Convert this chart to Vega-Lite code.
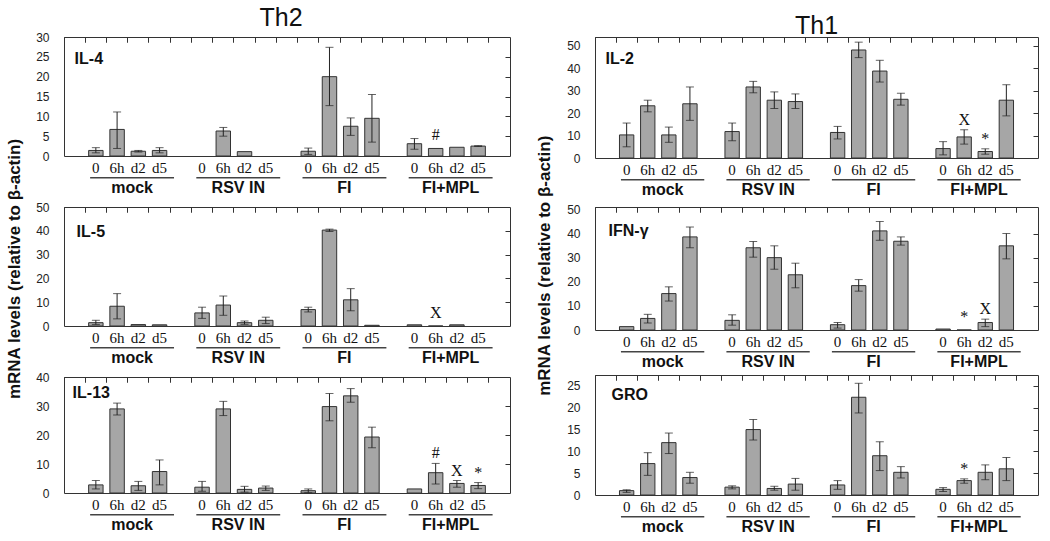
{
"$schema": "https://vega.github.io/schema/vega-lite/v6.json",
"background": "white",
"padding": {"left": 6, "top": -3, "right": 4, "bottom": 0},
"config": {
  "view": {"stroke": "#333", "strokeWidth": 1},
  "axis": {"title": null, "grid": false, "domain": false, "labelFont": "Liberation Sans", "labelColor": "#222", "tickColor": "#333"},
  "axisX": {"labelAngle": 0},
  "title": {"font": "Liberation Sans", "color": "#111"}
},
"datasets": {
  "d": [
    {"c":"IL-4","g":"mock","t":"0","k":"mock 0","v":1.4,"lo":0.8,"hi":2.1},
    {"c":"IL-4","g":"mock","t":"6h","k":"mock 6h","v":6.7,"lo":1.9,"hi":11.1},
    {"c":"IL-4","g":"mock","t":"d2","k":"mock d2","v":1.2,"lo":1.0,"hi":1.4},
    {"c":"IL-4","g":"mock","t":"d5","k":"mock d5","v":1.4,"lo":0.8,"hi":2.1},
    {"c":"IL-4","g":"RSV IN","t":"6h","k":"RSV IN 6h","v":6.3,"lo":5.0,"hi":7.2},
    {"c":"IL-4","g":"RSV IN","t":"d2","k":"RSV IN d2","v":1.1},
    {"c":"IL-4","g":"FI","t":"0","k":"FI 0","v":1.2,"lo":0.4,"hi":2.0},
    {"c":"IL-4","g":"FI","t":"6h","k":"FI 6h","v":20.0,"lo":12.7,"hi":27.4},
    {"c":"IL-4","g":"FI","t":"d2","k":"FI d2","v":7.5,"lo":5.2,"hi":9.6},
    {"c":"IL-4","g":"FI","t":"d5","k":"FI d5","v":9.5,"lo":3.5,"hi":15.5},
    {"c":"IL-4","g":"FI+MPL","t":"0","k":"FI+MPL 0","v":3.1,"lo":1.7,"hi":4.4},
    {"c":"IL-4","g":"FI+MPL","t":"6h","k":"FI+MPL 6h","v":1.9,"s":"#"},
    {"c":"IL-4","g":"FI+MPL","t":"d2","k":"FI+MPL d2","v":2.2},
    {"c":"IL-4","g":"FI+MPL","t":"d5","k":"FI+MPL d5","v":2.5,"lo":2.4,"hi":2.6},

    {"c":"IL-5","g":"mock","t":"0","k":"mock 0","v":1.4,"lo":0.6,"hi":2.4},
    {"c":"IL-5","g":"mock","t":"6h","k":"mock 6h","v":8.3,"lo":3.0,"hi":13.6},
    {"c":"IL-5","g":"mock","t":"d2","k":"mock d2","v":0.6},
    {"c":"IL-5","g":"mock","t":"d5","k":"mock d5","v":0.5},
    {"c":"IL-5","g":"RSV IN","t":"0","k":"RSV IN 0","v":5.5,"lo":3.2,"hi":7.9},
    {"c":"IL-5","g":"RSV IN","t":"6h","k":"RSV IN 6h","v":8.8,"lo":4.5,"hi":12.6},
    {"c":"IL-5","g":"RSV IN","t":"d2","k":"RSV IN d2","v":1.4,"lo":0.7,"hi":2.1},
    {"c":"IL-5","g":"RSV IN","t":"d5","k":"RSV IN d5","v":2.4,"lo":1.0,"hi":3.7},
    {"c":"IL-5","g":"FI","t":"0","k":"FI 0","v":6.9,"lo":5.9,"hi":7.9},
    {"c":"IL-5","g":"FI","t":"6h","k":"FI 6h","v":40.3,"lo":39.7,"hi":40.7},
    {"c":"IL-5","g":"FI","t":"d2","k":"FI d2","v":11.0,"lo":6.4,"hi":15.7},
    {"c":"IL-5","g":"FI","t":"d5","k":"FI d5","v":0.3},
    {"c":"IL-5","g":"FI+MPL","t":"0","k":"FI+MPL 0","v":0.5},
    {"c":"IL-5","g":"FI+MPL","t":"6h","k":"FI+MPL 6h","v":0,"s":"X"},
    {"c":"IL-5","g":"FI+MPL","t":"d2","k":"FI+MPL d2","v":0.5},

    {"c":"IL-13","g":"mock","t":"0","k":"mock 0","v":2.8,"lo":1.4,"hi":4.3},
    {"c":"IL-13","g":"mock","t":"6h","k":"mock 6h","v":29.0,"lo":26.9,"hi":31.0},
    {"c":"IL-13","g":"mock","t":"d2","k":"mock d2","v":2.5,"lo":0.9,"hi":4.0},
    {"c":"IL-13","g":"mock","t":"d5","k":"mock d5","v":7.4,"lo":2.8,"hi":11.4},
    {"c":"IL-13","g":"RSV IN","t":"0","k":"RSV IN 0","v":2.0,"lo":0.6,"hi":4.0},
    {"c":"IL-13","g":"RSV IN","t":"6h","k":"RSV IN 6h","v":29.0,"lo":26.7,"hi":31.6},
    {"c":"IL-13","g":"RSV IN","t":"d2","k":"RSV IN d2","v":1.25,"lo":0.3,"hi":2.3},
    {"c":"IL-13","g":"RSV IN","t":"d5","k":"RSV IN d5","v":1.7,"lo":0.9,"hi":2.4},
    {"c":"IL-13","g":"FI","t":"0","k":"FI 0","v":0.8,"lo":0.1,"hi":1.4},
    {"c":"IL-13","g":"FI","t":"6h","k":"FI 6h","v":29.8,"lo":24.9,"hi":34.3},
    {"c":"IL-13","g":"FI","t":"d2","k":"FI d2","v":33.5,"lo":31.3,"hi":36.0},
    {"c":"IL-13","g":"FI","t":"d5","k":"FI d5","v":19.3,"lo":15.6,"hi":22.7},
    {"c":"IL-13","g":"FI+MPL","t":"0","k":"FI+MPL 0","v":1.4},
    {"c":"IL-13","g":"FI+MPL","t":"6h","k":"FI+MPL 6h","v":7.0,"lo":3.1,"hi":10.2,"s":"#"},
    {"c":"IL-13","g":"FI+MPL","t":"d2","k":"FI+MPL d2","v":3.3,"lo":2.0,"hi":4.3,"s":"X"},
    {"c":"IL-13","g":"FI+MPL","t":"d5","k":"FI+MPL d5","v":2.6,"lo":1.5,"hi":3.6,"s":"*"},

    {"c":"IL-2","g":"mock","t":"0","k":"mock 0","v":10.3,"lo":5.0,"hi":15.6},
    {"c":"IL-2","g":"mock","t":"6h","k":"mock 6h","v":23.3,"lo":20.6,"hi":25.8},
    {"c":"IL-2","g":"mock","t":"d2","k":"mock d2","v":10.3,"lo":7.0,"hi":13.8},
    {"c":"IL-2","g":"mock","t":"d5","k":"mock d5","v":24.2,"lo":16.8,"hi":31.7},
    {"c":"IL-2","g":"RSV IN","t":"0","k":"RSV IN 0","v":11.8,"lo":7.7,"hi":15.6},
    {"c":"IL-2","g":"RSV IN","t":"6h","k":"RSV IN 6h","v":31.7,"lo":29.1,"hi":34.2},
    {"c":"IL-2","g":"RSV IN","t":"d2","k":"RSV IN d2","v":25.8,"lo":22.1,"hi":29.5},
    {"c":"IL-2","g":"RSV IN","t":"d5","k":"RSV IN d5","v":25.2,"lo":22.1,"hi":28.6},
    {"c":"IL-2","g":"FI","t":"0","k":"FI 0","v":11.4,"lo":8.5,"hi":14.1},
    {"c":"IL-2","g":"FI","t":"6h","k":"FI 6h","v":48.2,"lo":44.8,"hi":51.7},
    {"c":"IL-2","g":"FI","t":"d2","k":"FI d2","v":38.8,"lo":33.9,"hi":43.6},
    {"c":"IL-2","g":"FI","t":"d5","k":"FI d5","v":26.2,"lo":23.6,"hi":28.9},
    {"c":"IL-2","g":"FI+MPL","t":"0","k":"FI+MPL 0","v":4.2,"lo":1.4,"hi":7.3},
    {"c":"IL-2","g":"FI+MPL","t":"6h","k":"FI+MPL 6h","v":9.4,"lo":6.2,"hi":12.6,"s":"X"},
    {"c":"IL-2","g":"FI+MPL","t":"d2","k":"FI+MPL d2","v":2.9,"lo":1.7,"hi":4.1,"s":"*"},
    {"c":"IL-2","g":"FI+MPL","t":"d5","k":"FI+MPL d5","v":25.8,"lo":18.8,"hi":32.7},

    {"c":"IFN-γ","g":"mock","t":"0","k":"mock 0","v":1.4},
    {"c":"IFN-γ","g":"mock","t":"6h","k":"mock 6h","v":4.8,"lo":2.9,"hi":6.5},
    {"c":"IFN-γ","g":"mock","t":"d2","k":"mock d2","v":15.1,"lo":12.0,"hi":17.9},
    {"c":"IFN-γ","g":"mock","t":"d5","k":"mock d5","v":38.6,"lo":34.1,"hi":42.7},
    {"c":"IFN-γ","g":"RSV IN","t":"0","k":"RSV IN 0","v":4.0,"lo":2.0,"hi":6.3},
    {"c":"IFN-γ","g":"RSV IN","t":"6h","k":"RSV IN 6h","v":34.1,"lo":30.2,"hi":36.7},
    {"c":"IFN-γ","g":"RSV IN","t":"d2","k":"RSV IN d2","v":30.0,"lo":25.2,"hi":34.9},
    {"c":"IFN-γ","g":"RSV IN","t":"d5","k":"RSV IN d5","v":22.9,"lo":17.5,"hi":27.7},
    {"c":"IFN-γ","g":"FI","t":"0","k":"FI 0","v":2.2,"lo":0.8,"hi":3.1},
    {"c":"IFN-γ","g":"FI","t":"6h","k":"FI 6h","v":18.4,"lo":16.1,"hi":20.9},
    {"c":"IFN-γ","g":"FI","t":"d2","k":"FI d2","v":41.1,"lo":37.2,"hi":45.0},
    {"c":"IFN-γ","g":"FI","t":"d5","k":"FI d5","v":36.8,"lo":35.2,"hi":38.6},
    {"c":"IFN-γ","g":"FI+MPL","t":"0","k":"FI+MPL 0","v":0.4},
    {"c":"IFN-γ","g":"FI+MPL","t":"6h","k":"FI+MPL 6h","v":0,"s":"*"},
    {"c":"IFN-γ","g":"FI+MPL","t":"d2","k":"FI+MPL d2","v":3.1,"lo":1.4,"hi":4.5,"s":"X"},
    {"c":"IFN-γ","g":"FI+MPL","t":"d5","k":"FI+MPL d5","v":34.9,"lo":29.5,"hi":40.0},

    {"c":"GRO","g":"mock","t":"0","k":"mock 0","v":1.0,"lo":0.6,"hi":1.2},
    {"c":"GRO","g":"mock","t":"6h","k":"mock 6h","v":7.2,"lo":4.5,"hi":9.7},
    {"c":"GRO","g":"mock","t":"d2","k":"mock d2","v":12.0,"lo":9.5,"hi":14.2},
    {"c":"GRO","g":"mock","t":"d5","k":"mock d5","v":4.0,"lo":2.7,"hi":5.2},
    {"c":"GRO","g":"RSV IN","t":"0","k":"RSV IN 0","v":1.8,"lo":1.4,"hi":2.1},
    {"c":"GRO","g":"RSV IN","t":"6h","k":"RSV IN 6h","v":15.0,"lo":12.6,"hi":17.3},
    {"c":"GRO","g":"RSV IN","t":"d2","k":"RSV IN d2","v":1.5,"lo":1.1,"hi":2.0},
    {"c":"GRO","g":"RSV IN","t":"d5","k":"RSV IN d5","v":2.5,"lo":1.1,"hi":3.8},
    {"c":"GRO","g":"FI","t":"0","k":"FI 0","v":2.3,"lo":1.3,"hi":3.3},
    {"c":"GRO","g":"FI","t":"6h","k":"FI 6h","v":22.4,"lo":18.8,"hi":25.6},
    {"c":"GRO","g":"FI","t":"d2","k":"FI d2","v":9.0,"lo":5.6,"hi":12.2},
    {"c":"GRO","g":"FI","t":"d5","k":"FI d5","v":5.2,"lo":3.9,"hi":6.5},
    {"c":"GRO","g":"FI+MPL","t":"0","k":"FI+MPL 0","v":1.3,"lo":0.8,"hi":1.7},
    {"c":"GRO","g":"FI+MPL","t":"6h","k":"FI+MPL 6h","v":3.3,"lo":2.7,"hi":3.7,"s":"*"},
    {"c":"GRO","g":"FI+MPL","t":"d2","k":"FI+MPL d2","v":5.2,"lo":3.5,"hi":6.9},
    {"c":"GRO","g":"FI+MPL","t":"d5","k":"FI+MPL d5","v":6.0,"lo":3.3,"hi":8.6}
  ],
  "groups": [{"g":"mock"},{"g":"RSV IN"},{"g":"FI"},{"g":"FI+MPL"}]
},
"spacing": 25,
"hconcat": [
 {
  "title": {"text": "mRNA levels (relative to β-actin)", "orient": "left", "anchor": "middle", "fontSize": 17, "fontWeight": "bold", "offset": 11},
  "spacing": 4,
  "vconcat": [
   {
    "title": {"text": "Th2", "fontSize": 25, "fontWeight": "normal", "offset": 0, "anchor": "middle", "dx": 8},
    "bounds": "flush", "spacing": 21,
    "vconcat": [
     {
      "width": 446, "height": 119,
      "data": {"name": "d"},
      "transform": [{"filter": "datum.c == 'IL-4'"}],
      "layer": [
       {"mark": {"type": "bar", "width": {"band": 0.68}, "fill": "#a6a6a6", "stroke": "#333", "strokeWidth": 1},
        "encoding": {
         "x": {"field": "k", "type": "nominal", "scale": {"domain": ["_0","mock 0","mock 6h","mock d2","mock d5","_1","RSV IN 0","RSV IN 6h","RSV IN d2","RSV IN d5","_2","FI 0","FI 6h","FI d2","FI d5","_3","FI+MPL 0","FI+MPL 6h","FI+MPL d2","FI+MPL d5","_4"], "paddingInner": 0, "paddingOuter": 0},
               "axis": {"labelExpr": "indexof(datum.value, '_') == 0 ? '' : peek(split(datum.value, ' '))", "ticks": false, "labelFont": "Liberation Serif", "labelFontSize": 15, "labelPadding": 4, "labelColor": "#111"}},
         "y": {"field": "v", "type": "quantitative", "scale": {"domain": [0, 30], "nice": false}, "axis": {"values": [0,5,10,15,20,25,30], "ticks": false, "labelPadding": 15, "labelFontSize": 12}}
        }},
       {"transform": [{"filter": "isValid(datum.lo)"}], "mark": {"type": "rule", "color": "#222"},
        "encoding": {
         "x": {"field": "k", "type": "nominal", "axis": {"bandPosition": 0, "labels": false, "tickSize": 5, "offset": -5}},
         "y": {"field": "lo", "type": "quantitative", "axis": {"values": [5,10,15,20,25], "labels": false, "tickSize": 5, "offset": -5}},
         "y2": {"field": "hi"}
        }},
       {"transform": [{"filter": "isValid(datum.lo)"}], "mark": {"type": "tick", "orient": "horizontal", "size": 8, "thickness": 1, "color": "#222"},
        "encoding": {
         "x": {"field": "k", "type": "nominal", "axis": {"orient": "top", "bandPosition": 0, "labels": false, "tickSize": 5, "offset": -5}},
         "y": {"field": "hi", "type": "quantitative", "axis": null}
        }},
       {"transform": [{"filter": "isValid(datum.lo)"}], "mark": {"type": "tick", "orient": "horizontal", "size": 8, "thickness": 1, "color": "#222"},
        "encoding": {"x": {"field": "k", "type": "nominal", "axis": null}, "y": {"field": "lo", "type": "quantitative", "axis": null}}},
       {"transform": [{"filter": "isValid(datum.s) && isValid(datum.hi)"}], "mark": {"type": "text", "font": "Liberation Serif", "fontSize": 16, "baseline": "bottom", "dy": -2, "color": "#111"},
        "encoding": {"x": {"field": "k", "type": "nominal", "axis": null}, "y": {"field": "hi", "type": "quantitative", "axis": null}, "text": {"field": "s"}}},
       {"transform": [{"filter": "isValid(datum.s) && !isValid(datum.hi)"}], "mark": {"type": "text", "font": "Liberation Serif", "fontSize": 16, "baseline": "bottom", "dy": -5, "color": "#111"},
        "encoding": {"x": {"field": "k", "type": "nominal", "axis": null}, "y": {"field": "v", "type": "quantitative", "axis": null}, "text": {"field": "s"}}},
       {"data": {"values": [{"label": "IL-4"}]}, "mark": {"type": "text", "align": "left", "baseline": "alphabetic", "font": "Liberation Sans", "fontSize": 16, "fontWeight": "bold", "color": "#111", "dx": 0},
        "encoding": {"x": {"datum": "_0", "type": "nominal", "axis": null}, "y": {"datum": 23.2, "type": "quantitative", "axis": null}, "text": {"field": "label"}}}
      ],
      "resolve": {"axis": {"x": "independent", "y": "independent"}}
     },
     {
      "width": 446, "height": 1.5, "view": {"stroke": null},
      "data": {"name": "groups"},
      "mark": {"type": "rect", "color": "#444"},
      "encoding": {"x": {"field": "g", "type": "nominal", "sort": null, "scale": {"domain": ["mock","RSV IN","FI","FI+MPL"], "paddingInner": 0.21, "paddingOuter": 0.205, "align": 0.6},
        "axis": {"ticks": false, "labelFontWeight": "bold", "labelFontSize": 16, "labelPadding": 1, "labelColor": "#111"}}}
     }
    ]
   },
   {
    "bounds": "flush", "spacing": 21,
    "vconcat": [
     {
      "width": 446, "height": 119,
      "data": {"name": "d"},
      "transform": [{"filter": "datum.c == 'IL-5'"}],
      "layer": [
       {"mark": {"type": "bar", "width": {"band": 0.68}, "fill": "#a6a6a6", "stroke": "#333", "strokeWidth": 1},
        "encoding": {
         "x": {"field": "k", "type": "nominal", "scale": {"domain": ["_0","mock 0","mock 6h","mock d2","mock d5","_1","RSV IN 0","RSV IN 6h","RSV IN d2","RSV IN d5","_2","FI 0","FI 6h","FI d2","FI d5","_3","FI+MPL 0","FI+MPL 6h","FI+MPL d2","FI+MPL d5","_4"], "paddingInner": 0, "paddingOuter": 0},
               "axis": {"labelExpr": "indexof(datum.value, '_') == 0 ? '' : peek(split(datum.value, ' '))", "ticks": false, "labelFont": "Liberation Serif", "labelFontSize": 15, "labelPadding": 4, "labelColor": "#111"}},
         "y": {"field": "v", "type": "quantitative", "scale": {"domain": [0, 50], "nice": false}, "axis": {"values": [0,10,20,30,40,50], "ticks": false, "labelPadding": 15, "labelFontSize": 12}}
        }},
       {"transform": [{"filter": "isValid(datum.lo)"}], "mark": {"type": "rule", "color": "#222"},
        "encoding": {
         "x": {"field": "k", "type": "nominal", "axis": {"bandPosition": 0, "labels": false, "tickSize": 5, "offset": -5}},
         "y": {"field": "lo", "type": "quantitative", "axis": {"values": [10,20,30,40], "labels": false, "tickSize": 5, "offset": -5}},
         "y2": {"field": "hi"}
        }},
       {"transform": [{"filter": "isValid(datum.lo)"}], "mark": {"type": "tick", "orient": "horizontal", "size": 8, "thickness": 1, "color": "#222"},
        "encoding": {
         "x": {"field": "k", "type": "nominal", "axis": {"orient": "top", "bandPosition": 0, "labels": false, "tickSize": 5, "offset": -5}},
         "y": {"field": "hi", "type": "quantitative", "axis": null}
        }},
       {"transform": [{"filter": "isValid(datum.lo)"}], "mark": {"type": "tick", "orient": "horizontal", "size": 8, "thickness": 1, "color": "#222"},
        "encoding": {"x": {"field": "k", "type": "nominal", "axis": null}, "y": {"field": "lo", "type": "quantitative", "axis": null}}},
       {"transform": [{"filter": "isValid(datum.s) && isValid(datum.hi)"}], "mark": {"type": "text", "font": "Liberation Serif", "fontSize": 16, "baseline": "bottom", "dy": -2, "color": "#111"},
        "encoding": {"x": {"field": "k", "type": "nominal", "axis": null}, "y": {"field": "hi", "type": "quantitative", "axis": null}, "text": {"field": "s"}}},
       {"transform": [{"filter": "isValid(datum.s) && !isValid(datum.hi)"}], "mark": {"type": "text", "font": "Liberation Serif", "fontSize": 16, "baseline": "bottom", "dy": -5, "color": "#111"},
        "encoding": {"x": {"field": "k", "type": "nominal", "axis": null}, "y": {"field": "v", "type": "quantitative", "axis": null}, "text": {"field": "s"}}},
       {"data": {"values": [{"label": "IL-5"}]}, "mark": {"type": "text", "align": "left", "baseline": "alphabetic", "font": "Liberation Sans", "fontSize": 16, "fontWeight": "bold", "color": "#111", "dx": 2},
        "encoding": {"x": {"datum": "_0", "type": "nominal", "axis": null}, "y": {"datum": 37.4, "type": "quantitative", "axis": null}, "text": {"field": "label"}}}
      ],
      "resolve": {"axis": {"x": "independent", "y": "independent"}}
     },
     {
      "width": 446, "height": 1.5, "view": {"stroke": null},
      "data": {"name": "groups"},
      "mark": {"type": "rect", "color": "#444"},
      "encoding": {"x": {"field": "g", "type": "nominal", "sort": null, "scale": {"domain": ["mock","RSV IN","FI","FI+MPL"], "paddingInner": 0.21, "paddingOuter": 0.205, "align": 0.6},
        "axis": {"ticks": false, "labelFontWeight": "bold", "labelFontSize": 16, "labelPadding": 1, "labelColor": "#111"}}}
     }
    ]
   },
   {
    "bounds": "flush", "spacing": 21,
    "vconcat": [
     {
      "width": 446, "height": 116,
      "data": {"name": "d"},
      "transform": [{"filter": "datum.c == 'IL-13'"}],
      "layer": [
       {"mark": {"type": "bar", "width": {"band": 0.68}, "fill": "#a6a6a6", "stroke": "#333", "strokeWidth": 1},
        "encoding": {
         "x": {"field": "k", "type": "nominal", "scale": {"domain": ["_0","mock 0","mock 6h","mock d2","mock d5","_1","RSV IN 0","RSV IN 6h","RSV IN d2","RSV IN d5","_2","FI 0","FI 6h","FI d2","FI d5","_3","FI+MPL 0","FI+MPL 6h","FI+MPL d2","FI+MPL d5","_4"], "paddingInner": 0, "paddingOuter": 0},
               "axis": {"labelExpr": "indexof(datum.value, '_') == 0 ? '' : peek(split(datum.value, ' '))", "ticks": false, "labelFont": "Liberation Serif", "labelFontSize": 15, "labelPadding": 4, "labelColor": "#111"}},
         "y": {"field": "v", "type": "quantitative", "scale": {"domain": [0, 40], "nice": false}, "axis": {"values": [0,10,20,30,40], "ticks": false, "labelPadding": 15, "labelFontSize": 12}}
        }},
       {"transform": [{"filter": "isValid(datum.lo)"}], "mark": {"type": "rule", "color": "#222"},
        "encoding": {
         "x": {"field": "k", "type": "nominal", "axis": {"bandPosition": 0, "labels": false, "tickSize": 5, "offset": -5}},
         "y": {"field": "lo", "type": "quantitative", "axis": {"values": [10,20,30], "labels": false, "tickSize": 5, "offset": -5}},
         "y2": {"field": "hi"}
        }},
       {"transform": [{"filter": "isValid(datum.lo)"}], "mark": {"type": "tick", "orient": "horizontal", "size": 8, "thickness": 1, "color": "#222"},
        "encoding": {
         "x": {"field": "k", "type": "nominal", "axis": {"orient": "top", "bandPosition": 0, "labels": false, "tickSize": 5, "offset": -5}},
         "y": {"field": "hi", "type": "quantitative", "axis": null}
        }},
       {"transform": [{"filter": "isValid(datum.lo)"}], "mark": {"type": "tick", "orient": "horizontal", "size": 8, "thickness": 1, "color": "#222"},
        "encoding": {"x": {"field": "k", "type": "nominal", "axis": null}, "y": {"field": "lo", "type": "quantitative", "axis": null}}},
       {"transform": [{"filter": "isValid(datum.s) && isValid(datum.hi)"}], "mark": {"type": "text", "font": "Liberation Serif", "fontSize": 16, "baseline": "bottom", "dy": -2, "color": "#111"},
        "encoding": {"x": {"field": "k", "type": "nominal", "axis": null}, "y": {"field": "hi", "type": "quantitative", "axis": null}, "text": {"field": "s"}}},
       {"transform": [{"filter": "isValid(datum.s) && !isValid(datum.hi)"}], "mark": {"type": "text", "font": "Liberation Serif", "fontSize": 16, "baseline": "bottom", "dy": -5, "color": "#111"},
        "encoding": {"x": {"field": "k", "type": "nominal", "axis": null}, "y": {"field": "v", "type": "quantitative", "axis": null}, "text": {"field": "s"}}},
       {"data": {"values": [{"label": "IL-13"}]}, "mark": {"type": "text", "align": "left", "baseline": "alphabetic", "font": "Liberation Sans", "fontSize": 16, "fontWeight": "bold", "color": "#111", "dx": -2},
        "encoding": {"x": {"datum": "_0", "type": "nominal", "axis": null}, "y": {"datum": 32.8, "type": "quantitative", "axis": null}, "text": {"field": "label"}}}
      ],
      "resolve": {"axis": {"x": "independent", "y": "independent"}}
     },
     {
      "width": 446, "height": 1.5, "view": {"stroke": null},
      "data": {"name": "groups"},
      "mark": {"type": "rect", "color": "#444"},
      "encoding": {"x": {"field": "g", "type": "nominal", "sort": null, "scale": {"domain": ["mock","RSV IN","FI","FI+MPL"], "paddingInner": 0.21, "paddingOuter": 0.205, "align": 0.6},
        "axis": {"ticks": false, "labelFontWeight": "bold", "labelFontSize": 16, "labelPadding": 1, "labelColor": "#111"}}}
     }
    ]
   }
  ]
 },
 {
  "title": {"text": "mRNA levels (relative to β-actin)", "orient": "left", "anchor": "middle", "fontSize": 17, "fontWeight": "bold", "offset": 12},
  "spacing": 4,
  "vconcat": [
   {
    "title": {"text": ["", "Th1"], "lineHeight": 17, "fontSize": 25, "fontWeight": "normal", "offset": -3, "anchor": "middle", "dx": 14},
    "bounds": "flush", "spacing": 21,
    "vconcat": [
     {
      "width": 443, "height": 121,
      "data": {"name": "d"},
      "transform": [{"filter": "datum.c == 'IL-2'"}],
      "layer": [
       {"mark": {"type": "bar", "width": {"band": 0.68}, "fill": "#a6a6a6", "stroke": "#333", "strokeWidth": 1},
        "encoding": {
         "x": {"field": "k", "type": "nominal", "scale": {"domain": ["_0","mock 0","mock 6h","mock d2","mock d5","_1","RSV IN 0","RSV IN 6h","RSV IN d2","RSV IN d5","_2","FI 0","FI 6h","FI d2","FI d5","_3","FI+MPL 0","FI+MPL 6h","FI+MPL d2","FI+MPL d5","_4"], "paddingInner": 0, "paddingOuter": 0},
               "axis": {"labelExpr": "indexof(datum.value, '_') == 0 ? '' : peek(split(datum.value, ' '))", "ticks": false, "labelFont": "Liberation Serif", "labelFontSize": 15, "labelPadding": 4, "labelColor": "#111"}},
         "y": {"field": "v", "type": "quantitative", "scale": {"domain": [0, 54], "nice": false}, "axis": {"values": [0,10,20,30,40,50], "ticks": false, "labelPadding": 15, "labelFontSize": 12}}
        }},
       {"transform": [{"filter": "isValid(datum.lo)"}], "mark": {"type": "rule", "color": "#222"},
        "encoding": {
         "x": {"field": "k", "type": "nominal", "axis": {"bandPosition": 0, "labels": false, "tickSize": 5, "offset": -5}},
         "y": {"field": "lo", "type": "quantitative", "axis": {"values": [10,20,30,40,50], "labels": false, "tickSize": 5, "offset": -5}},
         "y2": {"field": "hi"}
        }},
       {"transform": [{"filter": "isValid(datum.lo)"}], "mark": {"type": "tick", "orient": "horizontal", "size": 8, "thickness": 1, "color": "#222"},
        "encoding": {
         "x": {"field": "k", "type": "nominal", "axis": {"orient": "top", "bandPosition": 0, "labels": false, "tickSize": 5, "offset": -5}},
         "y": {"field": "hi", "type": "quantitative", "axis": null}
        }},
       {"transform": [{"filter": "isValid(datum.lo)"}], "mark": {"type": "tick", "orient": "horizontal", "size": 8, "thickness": 1, "color": "#222"},
        "encoding": {"x": {"field": "k", "type": "nominal", "axis": null}, "y": {"field": "lo", "type": "quantitative", "axis": null}}},
       {"transform": [{"filter": "isValid(datum.s) && isValid(datum.hi)"}], "mark": {"type": "text", "font": "Liberation Serif", "fontSize": 16, "baseline": "bottom", "dy": -2, "color": "#111"},
        "encoding": {"x": {"field": "k", "type": "nominal", "axis": null}, "y": {"field": "hi", "type": "quantitative", "axis": null}, "text": {"field": "s"}}},
       {"transform": [{"filter": "isValid(datum.s) && !isValid(datum.hi)"}], "mark": {"type": "text", "font": "Liberation Serif", "fontSize": 16, "baseline": "bottom", "dy": -5, "color": "#111"},
        "encoding": {"x": {"field": "k", "type": "nominal", "axis": null}, "y": {"field": "v", "type": "quantitative", "axis": null}, "text": {"field": "s"}}},
       {"data": {"values": [{"label": "IL-2"}]}, "mark": {"type": "text", "align": "left", "baseline": "alphabetic", "font": "Liberation Sans", "fontSize": 16, "fontWeight": "bold", "color": "#111", "dx": 0},
        "encoding": {"x": {"datum": "_0", "type": "nominal", "axis": null}, "y": {"datum": 42, "type": "quantitative", "axis": null}, "text": {"field": "label"}}}
      ],
      "resolve": {"axis": {"x": "independent", "y": "independent"}}
     },
     {
      "width": 443, "height": 1.5, "view": {"stroke": null},
      "data": {"name": "groups"},
      "mark": {"type": "rect", "color": "#444"},
      "encoding": {"x": {"field": "g", "type": "nominal", "sort": null, "scale": {"domain": ["mock","RSV IN","FI","FI+MPL"], "paddingInner": 0.21, "paddingOuter": 0.205, "align": 0.6},
        "axis": {"ticks": false, "labelFontWeight": "bold", "labelFontSize": 16, "labelPadding": 1, "labelColor": "#111"}}}
     }
    ]
   },
   {
    "bounds": "flush", "spacing": 21,
    "vconcat": [
     {
      "width": 443, "height": 123,
      "data": {"name": "d"},
      "transform": [{"filter": "datum.c == 'IFN-γ'"}],
      "layer": [
       {"mark": {"type": "bar", "width": {"band": 0.68}, "fill": "#a6a6a6", "stroke": "#333", "strokeWidth": 1},
        "encoding": {
         "x": {"field": "k", "type": "nominal", "scale": {"domain": ["_0","mock 0","mock 6h","mock d2","mock d5","_1","RSV IN 0","RSV IN 6h","RSV IN d2","RSV IN d5","_2","FI 0","FI 6h","FI d2","FI d5","_3","FI+MPL 0","FI+MPL 6h","FI+MPL d2","FI+MPL d5","_4"], "paddingInner": 0, "paddingOuter": 0},
               "axis": {"labelExpr": "indexof(datum.value, '_') == 0 ? '' : peek(split(datum.value, ' '))", "ticks": false, "labelFont": "Liberation Serif", "labelFontSize": 15, "labelPadding": 4, "labelColor": "#111"}},
         "y": {"field": "v", "type": "quantitative", "scale": {"domain": [0, 51], "nice": false}, "axis": {"values": [0,10,20,30,40,50], "ticks": false, "labelPadding": 15, "labelFontSize": 12}}
        }},
       {"transform": [{"filter": "isValid(datum.lo)"}], "mark": {"type": "rule", "color": "#222"},
        "encoding": {
         "x": {"field": "k", "type": "nominal", "axis": {"bandPosition": 0, "labels": false, "tickSize": 5, "offset": -5}},
         "y": {"field": "lo", "type": "quantitative", "axis": {"values": [10,20,30,40], "labels": false, "tickSize": 5, "offset": -5}},
         "y2": {"field": "hi"}
        }},
       {"transform": [{"filter": "isValid(datum.lo)"}], "mark": {"type": "tick", "orient": "horizontal", "size": 8, "thickness": 1, "color": "#222"},
        "encoding": {
         "x": {"field": "k", "type": "nominal", "axis": {"orient": "top", "bandPosition": 0, "labels": false, "tickSize": 5, "offset": -5}},
         "y": {"field": "hi", "type": "quantitative", "axis": null}
        }},
       {"transform": [{"filter": "isValid(datum.lo)"}], "mark": {"type": "tick", "orient": "horizontal", "size": 8, "thickness": 1, "color": "#222"},
        "encoding": {"x": {"field": "k", "type": "nominal", "axis": null}, "y": {"field": "lo", "type": "quantitative", "axis": null}}},
       {"transform": [{"filter": "isValid(datum.s) && isValid(datum.hi)"}], "mark": {"type": "text", "font": "Liberation Serif", "fontSize": 16, "baseline": "bottom", "dy": -2, "color": "#111"},
        "encoding": {"x": {"field": "k", "type": "nominal", "axis": null}, "y": {"field": "hi", "type": "quantitative", "axis": null}, "text": {"field": "s"}}},
       {"transform": [{"filter": "isValid(datum.s) && !isValid(datum.hi)"}], "mark": {"type": "text", "font": "Liberation Serif", "fontSize": 16, "baseline": "bottom", "dy": -5, "color": "#111"},
        "encoding": {"x": {"field": "k", "type": "nominal", "axis": null}, "y": {"field": "v", "type": "quantitative", "axis": null}, "text": {"field": "s"}}},
       {"data": {"values": [{"label": "IFN-γ"}]}, "mark": {"type": "text", "align": "left", "baseline": "alphabetic", "font": "Liberation Sans", "fontSize": 16, "fontWeight": "bold", "color": "#111", "dx": 3},
        "encoding": {"x": {"datum": "_0", "type": "nominal", "axis": null}, "y": {"datum": 39, "type": "quantitative", "axis": null}, "text": {"field": "label"}}}
      ],
      "resolve": {"axis": {"x": "independent", "y": "independent"}}
     },
     {
      "width": 443, "height": 1.5, "view": {"stroke": null},
      "data": {"name": "groups"},
      "mark": {"type": "rect", "color": "#444"},
      "encoding": {"x": {"field": "g", "type": "nominal", "sort": null, "scale": {"domain": ["mock","RSV IN","FI","FI+MPL"], "paddingInner": 0.21, "paddingOuter": 0.205, "align": 0.6},
        "axis": {"ticks": false, "labelFontWeight": "bold", "labelFontSize": 16, "labelPadding": 1, "labelColor": "#111"}}}
     }
    ]
   },
   {
    "bounds": "flush", "spacing": 21,
    "vconcat": [
     {
      "width": 443, "height": 120,
      "data": {"name": "d"},
      "transform": [{"filter": "datum.c == 'GRO'"}],
      "layer": [
       {"mark": {"type": "bar", "width": {"band": 0.68}, "fill": "#a6a6a6", "stroke": "#333", "strokeWidth": 1},
        "encoding": {
         "x": {"field": "k", "type": "nominal", "scale": {"domain": ["_0","mock 0","mock 6h","mock d2","mock d5","_1","RSV IN 0","RSV IN 6h","RSV IN d2","RSV IN d5","_2","FI 0","FI 6h","FI d2","FI d5","_3","FI+MPL 0","FI+MPL 6h","FI+MPL d2","FI+MPL d5","_4"], "paddingInner": 0, "paddingOuter": 0},
               "axis": {"labelExpr": "indexof(datum.value, '_') == 0 ? '' : peek(split(datum.value, ' '))", "ticks": false, "labelFont": "Liberation Serif", "labelFontSize": 15, "labelPadding": 4, "labelColor": "#111"}},
         "y": {"field": "v", "type": "quantitative", "scale": {"domain": [0, 27.5], "nice": false}, "axis": {"values": [0,5,10,15,20,25], "ticks": false, "labelPadding": 15, "labelFontSize": 12}}
        }},
       {"transform": [{"filter": "isValid(datum.lo)"}], "mark": {"type": "rule", "color": "#222"},
        "encoding": {
         "x": {"field": "k", "type": "nominal", "axis": {"bandPosition": 0, "labels": false, "tickSize": 5, "offset": -5}},
         "y": {"field": "lo", "type": "quantitative", "axis": {"values": [5,10,15,20,25], "labels": false, "tickSize": 5, "offset": -5}},
         "y2": {"field": "hi"}
        }},
       {"transform": [{"filter": "isValid(datum.lo)"}], "mark": {"type": "tick", "orient": "horizontal", "size": 8, "thickness": 1, "color": "#222"},
        "encoding": {
         "x": {"field": "k", "type": "nominal", "axis": {"orient": "top", "bandPosition": 0, "labels": false, "tickSize": 5, "offset": -5}},
         "y": {"field": "hi", "type": "quantitative", "axis": null}
        }},
       {"transform": [{"filter": "isValid(datum.lo)"}], "mark": {"type": "tick", "orient": "horizontal", "size": 8, "thickness": 1, "color": "#222"},
        "encoding": {"x": {"field": "k", "type": "nominal", "axis": null}, "y": {"field": "lo", "type": "quantitative", "axis": null}}},
       {"transform": [{"filter": "isValid(datum.s) && isValid(datum.hi)"}], "mark": {"type": "text", "font": "Liberation Serif", "fontSize": 16, "baseline": "bottom", "dy": -2, "color": "#111"},
        "encoding": {"x": {"field": "k", "type": "nominal", "axis": null}, "y": {"field": "hi", "type": "quantitative", "axis": null}, "text": {"field": "s"}}},
       {"transform": [{"filter": "isValid(datum.s) && !isValid(datum.hi)"}], "mark": {"type": "text", "font": "Liberation Serif", "fontSize": 16, "baseline": "bottom", "dy": -5, "color": "#111"},
        "encoding": {"x": {"field": "k", "type": "nominal", "axis": null}, "y": {"field": "v", "type": "quantitative", "axis": null}, "text": {"field": "s"}}},
       {"data": {"values": [{"label": "GRO"}]}, "mark": {"type": "text", "align": "left", "baseline": "alphabetic", "font": "Liberation Sans", "fontSize": 16, "fontWeight": "bold", "color": "#111", "dx": 6},
        "encoding": {"x": {"datum": "_0", "type": "nominal", "axis": null}, "y": {"datum": 21.8, "type": "quantitative", "axis": null}, "text": {"field": "label"}}}
      ],
      "resolve": {"axis": {"x": "independent", "y": "independent"}}
     },
     {
      "width": 443, "height": 1.5, "view": {"stroke": null},
      "data": {"name": "groups"},
      "mark": {"type": "rect", "color": "#444"},
      "encoding": {"x": {"field": "g", "type": "nominal", "sort": null, "scale": {"domain": ["mock","RSV IN","FI","FI+MPL"], "paddingInner": 0.21, "paddingOuter": 0.205, "align": 0.6},
        "axis": {"ticks": false, "labelFontWeight": "bold", "labelFontSize": 16, "labelPadding": 1, "labelColor": "#111"}}}
     }
    ]
   }
  ]
 }
]
}
